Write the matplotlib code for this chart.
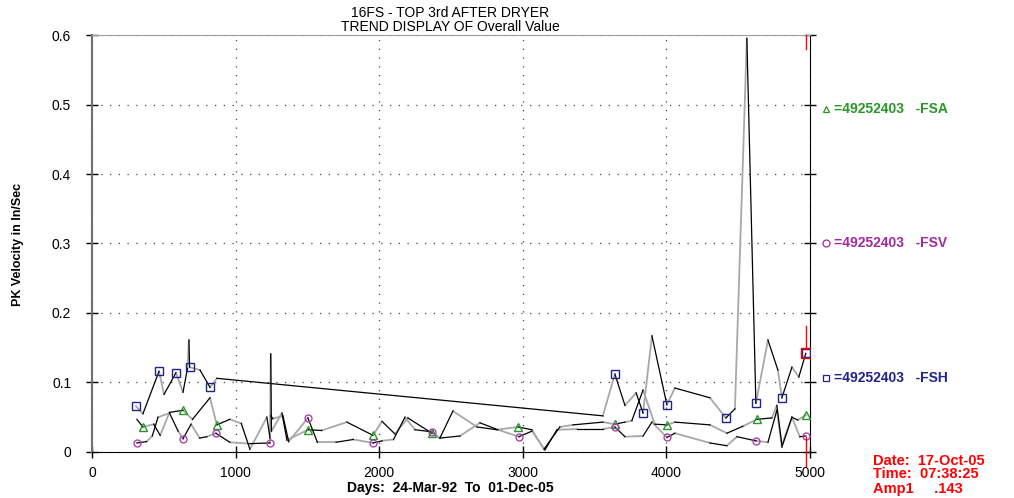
import matplotlib
matplotlib.use("Agg")
import matplotlib.pyplot as plt
import matplotlib.transforms as mtransforms

plt.rcParams['font.family'] = ['Liberation Sans', 'DejaVu Sans']

# FSH (squares)
fsh_days = [306, 355, 467, 502, 585, 634, 665, 675, 680, 752, 822, 870, 3558,
            3642, 3712, 3790, 3838, 3900, 4004, 4060, 4304, 4415, 4478, 4561,
            4624, 4708, 4777, 4805, 4875, 4923, 4972]
fsh_vals = [0.066, 0.055, 0.116, 0.083, 0.114, 0.086, 0.120, 0.161, 0.122, 0.118,
            0.093, 0.106, 0.052, 0.112, 0.067, 0.085, 0.056, 0.167, 0.068, 0.092,
            0.078, 0.049, 0.062, 0.595, 0.070, 0.161, 0.118, 0.078, 0.122, 0.108,
            0.142]
fsh_marks = [0, 2, 4, 8, 10, 13, 16, 18, 21, 24, 27, 30]

# FSA (triangles)
fsa_days = [313, 355, 430, 475, 540, 634, 700, 822, 870, 960, 1040, 1100, 1218,
            1240, 1245, 1250, 1323, 1358, 1504, 1600, 1775, 1957, 2020, 2110, 2200,
            2368, 2423, 2514, 2681, 2820, 2967, 3064, 3148, 3259, 3350, 3559, 3642,
            3712, 3760, 3838, 3920, 4004, 4060, 4304, 4422, 4533, 4631, 4735, 4770,
            4805, 4875, 4916, 4972]
fsa_vals = [0.047, 0.036, 0.040, 0.024, 0.057, 0.060, 0.047, 0.078, 0.039, 0.047,
            0.041, 0.004, 0.050, 0.020, 0.141, 0.030, 0.056, 0.017, 0.032, 0.031,
            0.043, 0.024, 0.044, 0.026, 0.049, 0.027, 0.020, 0.059, 0.036, 0.032,
            0.036, 0.032, 0.004, 0.036, 0.039, 0.043, 0.040, 0.043, 0.045, 0.089,
            0.040, 0.039, 0.043, 0.039, 0.027, 0.037, 0.047, 0.049, 0.067, 0.010,
            0.050, 0.046, 0.053]
fsa_marks = [1, 5, 8, 18, 21, 25, 30, 36, 41, 46, 52]

# FSV (circles)
fsv_days = [313, 380, 420, 460, 540, 600, 634, 690, 750, 800, 863, 960, 1100,
            1240, 1245, 1260, 1330, 1370, 1504, 1570, 1700, 1820, 1957, 2020, 2100,
            2180, 2250, 2368, 2423, 2563, 2702, 2827, 2974, 3064, 3155, 3238, 3378,
            3559, 3642, 3712, 3838, 3900, 4004, 4060, 4304, 4422, 4492, 4624, 4708,
            4770, 4805, 4875, 4930, 4972]
fsv_vals = [0.013, 0.015, 0.023, 0.050, 0.056, 0.030, 0.019, 0.040, 0.020, 0.022,
            0.027, 0.014, 0.012, 0.013, 0.052, 0.048, 0.052, 0.015, 0.049, 0.014,
            0.014, 0.018, 0.013, 0.016, 0.018, 0.050, 0.032, 0.029, 0.020, 0.023,
            0.042, 0.032, 0.022, 0.030, 0.003, 0.032, 0.033, 0.033, 0.036, 0.022,
            0.023, 0.043, 0.021, 0.027, 0.013, 0.009, 0.022, 0.016, 0.014, 0.060,
            0.007, 0.050, 0.022, 0.023]
fsv_marks = [0, 6, 10, 13, 18, 22, 27, 32, 38, 42, 47, 53]

x_ticks = [0, 1000, 2000, 3000, 4000, 5000]
y_ticks = [0, 0.1, 0.2, 0.3, 0.4, 0.5, 0.6]
y_tick_labels = ["0", "0.1", "0.2", "0.3", "0.4", "0.5", "0.6"]

cursor_day = 4972

fig = plt.figure(figsize=(10.14, 4.98), dpi=100)
ax = fig.add_axes([0.0907, 0.0924, 0.708, 0.8373])


def draw_series(days, vals, marks, marker, mcolor, msize, start_black=True):
    # segments drawn alternately black and grey, like the original trend plot
    for i in range(len(days) - 1):
        if (i % 2 == 0) == start_black:
            ax.plot(days[i:i + 2], vals[i:i + 2], color="black", lw=0.9, zorder=3)
        else:
            ax.plot(days[i:i + 2], vals[i:i + 2], color="#a8a8a8", lw=1.3, zorder=2)
    ax.plot([days[i] for i in marks], [vals[i] for i in marks], linestyle="none",
            marker=marker, ms=msize, mfc="none", mec=mcolor, mew=1.0, zorder=4)


draw_series(fsh_days, fsh_vals, fsh_marks, "s", "#23238e", 6, start_black=False)
draw_series(fsa_days, fsa_vals, fsa_marks, "^", "#2a962a", 6)
draw_series(fsv_days, fsv_vals, fsv_marks, "o", "#b040b0", 5)

# red cursor
for y0, y1 in [(0.148, 0.181), (-0.02, 0.022), (0.58, 0.6)]:
    ax.plot([cursor_day, cursor_day], [y0, y1], color="red", lw=1, clip_on=False, zorder=5)
ax.plot([cursor_day], [0.143], marker="s", ms=7, mfc="none", mec="red", mew=1, zorder=5)

ax.set_xlim(0, 5000)
ax.set_ylim(0, 0.6)
ax.set_xticks(x_ticks)
ax.set_yticks(y_ticks)
ax.set_yticklabels(y_tick_labels)
ax.tick_params(axis="both", direction="inout", length=8, width=1, labelsize=10,
               right=True, pad=6)
ax.tick_params(axis="y", pad=11)
ax.grid(True, color="#444444", linestyle=(0, (1, 6)), lw=0.9)

ax.spines["left"].set_color("#707070")
ax.spines["left"].set_linewidth(1.5)
ax.spines["top"].set_color("#a0a0a0")
ax.spines["right"].set_color("black")
ax.spines["bottom"].set_color("black")

fig.text(0.444, 0.974, "16FS - TOP 3rd AFTER DRYER", ha="center", va="center", fontsize=10)
fig.text(0.444, 0.946, "TREND DISPLAY OF Overall Value", ha="center", va="center", fontsize=10)
fig.text(0.018, 0.51, "PK Velocity in In/Sec", rotation=90, ha="center", va="center",
         fontsize=9, fontweight="bold")
fig.text(0.444, 0.02, "Days:  24-Mar-92  To  01-Dec-05", ha="center", va="center",
         fontsize=10, fontweight="bold")

# legend labels on the right
trans = mtransforms.blended_transform_factory(ax.transAxes, ax.transData)
legend = [(0.494, "^", "#2a962a", "=49252403   -FSA"),
          (0.300, "o", "#a02ca0", "=49252403   -FSV"),
          (0.106, "s", "#23238e", "=49252403   -FSH")]
for yv, mk, col, txt in legend:
    ax.plot([1.022], [yv], marker=mk, ms=5, mfc="none", mec=col, mew=0.9,
            transform=trans, clip_on=False)
    ax.text(1.033, yv, txt, transform=trans, color=col, fontsize=10,
            fontweight="bold", ha="left", va="center")

fig.text(0.861, 0.075, "Date:  17-Oct-05", color="red", fontsize=10.5, fontweight="bold", va="center")
fig.text(0.861, 0.048, "Time:  07:38:25", color="red", fontsize=10.5, fontweight="bold", va="center")
fig.text(0.861, 0.018, "Amp1     .143", color="red", fontsize=10.5, fontweight="bold", va="center")

fig.savefig("out.png", dpi=100)
